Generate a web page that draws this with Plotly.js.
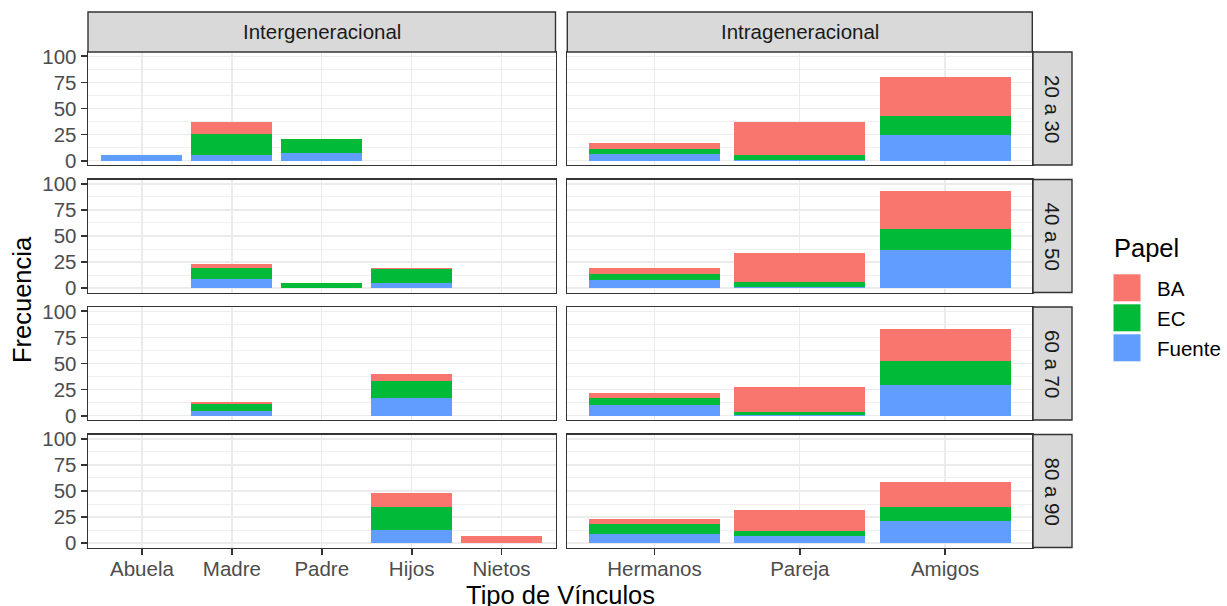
<!DOCTYPE html>
<html><head><meta charset="utf-8">
<script src="https://cdn.plot.ly/plotly-3.0.1.min.js"></script>
<style>html,body{margin:0;padding:0;background:#fff;}#chart{width:1227px;height:606px;}</style>
</head><body><div id="chart"></div>
<script>
// ---- data ----
const ageGroups = ['20 a 30', '40 a 50', '60 a 70', '80 a 90'];
const facetCols = ['Intergeneracional', 'Intrageneracional'];
const leftCats = ['Abuela', 'Madre', 'Padre', 'Hijos', 'Nietos'];
const rightCats = ['Hermanos', 'Pareja', 'Amigos'];
const roles = ['BA', 'EC', 'Fuente'];
const roleColors = { BA: '#F8766D', EC: '#00BA38', Fuente: '#619CFF' };

// Intergeneracional (rows = age groups, cols = leftCats)
const leftFuente = [[5, 5, 7, 0, 0], [0, 9, 0, 5, 0], [0, 4, 0, 17, 0], [0, 0, 0, 13, 0]];
const leftEC     = [[0, 21, 14, 0, 0], [0, 10, 5, 13, 0], [0, 7, 0, 16, 0], [0, 0, 0, 22, 0]];
const leftBA     = [[0, 11, 0, 0, 0], [0, 4, 0, 1, 0], [0, 2, 0, 7, 0], [0, 0, 0, 13, 7]];

// Intrageneracional (rows = age groups, cols = rightCats)
const rightFuente = [[6, 1, 25], [8, 1, 37], [10, 1, 29], [9, 7, 21]];
const rightEC     = [[5, 4, 18], [6, 5, 20], [7, 2, 23], [9, 5, 14]];
const rightBA     = [[6, 32, 37], [5, 28, 36], [5, 24, 31], [5, 20, 24]];

const yTicks = [0, 25, 50, 75, 100];

// ---- layout geometry (pixels) ----
const W = 1227, H = 606;
const colX = [[88, 555.5], [567.3, 1032.3]];
const rowTop = [52, 179.5, 307, 434.5];
const rowH = 113;
const FONT = '"Liberation Sans", Arial, sans-serif';
const px = v => v / W;
const py = v => 1 - v / H;

const dataByCol = [
  { cats: leftCats, Fuente: leftFuente, EC: leftEC, BA: leftBA },
  { cats: rightCats, Fuente: rightFuente, EC: rightEC, BA: rightBA }
];

const traces = [];
const layout = {
  width: W, height: H,
  margin: { l: 0, r: 0, t: 0, b: 0 },
  paper_bgcolor: '#ffffff', plot_bgcolor: '#ffffff',
  barmode: 'stack',
  showlegend: false,
  font: { family: FONT, size: 20, color: '#4D4D4D' },
  shapes: [], annotations: []
};

for (let r = 0; r < 4; r++) {
  for (let c = 0; c < 2; c++) {
    const idx = r * 2 + c + 1;
    const sfx = idx === 1 ? '' : String(idx);
    const xa = 'x' + sfx, ya = 'y' + sfx;
    const d = dataByCol[c];
    ['Fuente', 'EC', 'BA'].forEach(role => {
      traces.push({
        type: 'bar', x: d.cats, y: d[role][r], xaxis: xa, yaxis: ya,
        name: role, width: 0.9, marker: { color: roleColors[role], line: { width: 0 } },
        hoverinfo: 'skip', showlegend: false
      });
    });
    const bottom = r === 3;
    layout['xaxis' + sfx] = {
      domain: [px(colX[c][0]), px(colX[c][1])], anchor: ya,
      type: 'category', categoryorder: 'array', categoryarray: d.cats,
      range: [-0.6, d.cats.length - 0.4],
      showgrid: true, gridcolor: '#EBEBEB', gridwidth: 1.4,
      showline: true, mirror: true, linecolor: '#333333', linewidth: 1.4,
      zeroline: false,
      ticks: bottom ? 'outside' : '', ticklen: 6, tickwidth: 1.8, tickcolor: '#333333',
      showticklabels: bottom, ticklabelstandoff: -4,
      tickfont: { family: FONT, size: 20.5, color: '#4D4D4D' },
      fixedrange: true
    };
    layout['yaxis' + sfx] = {
      domain: [py(rowTop[r] + rowH), py(rowTop[r])], anchor: xa,
      range: [-4.2, 104.2],
      tickmode: 'array', tickvals: yTicks,
      minor: { tickmode: 'array', tickvals: [12.5, 37.5, 62.5, 87.5], showgrid: true, gridcolor: '#EBEBEB', gridwidth: 0.8, ticks: '' },
      showgrid: true, gridcolor: '#EBEBEB', gridwidth: 1.4,
      showline: true, mirror: true, linecolor: '#333333', linewidth: 1.4,
      zeroline: false,
      ticks: c === 0 ? 'outside' : '', ticklen: 6, tickwidth: 1.8, tickcolor: '#333333',
      showticklabels: c === 0,
      tickfont: { family: FONT, size: 20.5, color: '#4D4D4D' },
      fixedrange: true
    };
  }
}

// top strips
for (let c = 0; c < 2; c++) {
  layout.shapes.push({ type: 'rect', xref: 'paper', yref: 'paper',
    x0: px(colX[c][0]), x1: px(colX[c][1]), y0: py(52), y1: py(12),
    fillcolor: '#D9D9D9', line: { color: '#333333', width: 1.4 } });
  layout.annotations.push({ xref: 'paper', yref: 'paper', x: px((colX[c][0] + colX[c][1]) / 2), y: py(32),
    text: facetCols[c], showarrow: false, xanchor: 'center', yanchor: 'middle',
    font: { family: FONT, size: 20.5, color: '#1A1A1A' } });
}
// right strips
for (let r = 0; r < 4; r++) {
  layout.shapes.push({ type: 'rect', xref: 'paper', yref: 'paper',
    x0: px(1033), x1: px(1072), y0: py(rowTop[r] + rowH), y1: py(rowTop[r]),
    fillcolor: '#D9D9D9', line: { color: '#333333', width: 1.4 } });
  layout.annotations.push({ xref: 'paper', yref: 'paper', x: px(1052.5), y: py(rowTop[r] + rowH / 2),
    text: ageGroups[r], showarrow: false, textangle: 90, xanchor: 'center', yanchor: 'middle',
    font: { family: FONT, size: 20.5, color: '#1A1A1A' } });
}

// axis titles
layout.annotations.push({ xref: 'paper', yref: 'paper', x: px(22), y: py(300), text: 'Frecuencia',
  textangle: -90, showarrow: false, xanchor: 'center', yanchor: 'middle',
  font: { family: FONT, size: 25.5, color: '#000000' } });
layout.annotations.push({ xref: 'paper', yref: 'paper', x: px(560), y: py(595), text: 'Tipo de Vínculos',
  showarrow: false, xanchor: 'center', yanchor: 'middle',
  font: { family: FONT, size: 25.5, color: '#000000' } });

// legend (manual)
layout.annotations.push({ xref: 'paper', yref: 'paper', x: px(1112), y: py(248), text: 'Papel',
  showarrow: false, xanchor: 'left', yanchor: 'middle',
  font: { family: FONT, size: 25.5, color: '#000000' } });
const keyTops = [274.3, 304.3, 334.3];
roles.forEach((role, i) => {
  layout.shapes.push({ type: 'rect', xref: 'paper', yref: 'paper',
    x0: px(1113.5), x1: px(1140.5), y0: py(keyTops[i] + 27), y1: py(keyTops[i]),
    fillcolor: roleColors[role], line: { width: 0 } });
  layout.annotations.push({ xref: 'paper', yref: 'paper', x: px(1155), y: py(keyTops[i] + 14), text: role,
    showarrow: false, xanchor: 'left', yanchor: 'middle',
    font: { family: FONT, size: 20.5, color: '#000000' } });
});

Plotly.newPlot('chart', traces, layout, { staticPlot: true, displayModeBar: false });
</script>
</body></html>
